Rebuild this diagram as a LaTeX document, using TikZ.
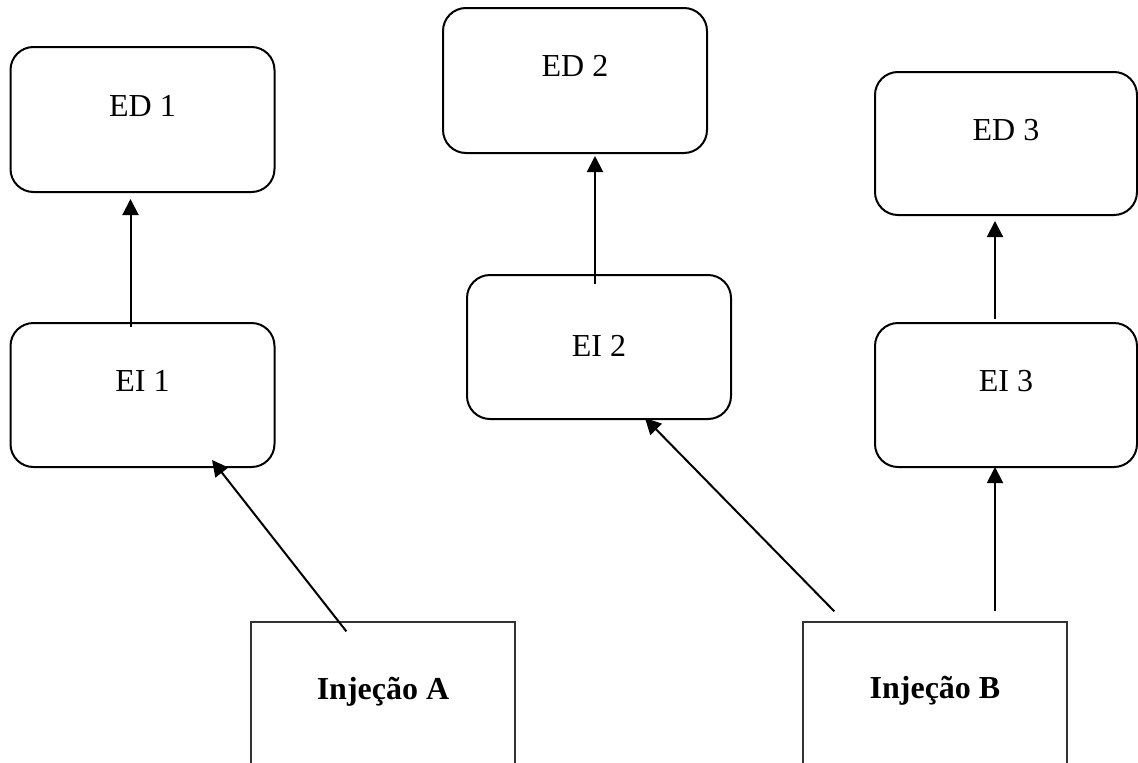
\documentclass[tikz,border=0pt]{standalone}
\usepackage{fontspec}
\setmainfont{Liberation Serif}
\usetikzlibrary{calc,arrows.meta}

\begin{document}
\begin{tikzpicture}[x=1pt,y=-1pt,
  rbox/.style={draw, line width=2pt, rounded corners=23pt, inner sep=0pt,
               minimum width=264pt, minimum height=144pt},
  injbox/.style={draw=black!80, line width=1.3pt, inner sep=0pt,
                 minimum width=264pt, minimum height=200pt},
  lbl/.style={anchor=base, inner sep=0pt, font=\fontsize{32}{38}\selectfont},
  blbl/.style={lbl, font=\fontsize{32}{38}\selectfont\bfseries},
  arr/.style={line width=2pt, -{Triangle[length=16pt,width=16pt]}}
]
\clip (0,0) rectangle (1138,763);
\fill[white] (0,0) rectangle (1138,763);

% effect boxes (top row)
\node[rbox, minimum height=145pt] (ed1) at (142.5,119.5) {};
\node[rbox, minimum height=145pt] (ed2) at (575,80.5) {};
\node[rbox, minimum width=262pt, minimum height=143pt] (ed3) at (1006,143.5) {};

% intermediate boxes (middle row)
\node[rbox] (ei1) at (142.5,395) {};
\node[rbox] (ei2) at (599,347) {};
\node[rbox, minimum width=262pt] (ei3) at (1006,395) {};

% injection boxes (bottom row, cut by the page edge)
\node[injbox] (injA) at (383,722) {};
\node[injbox] (injB) at (935,722) {};

% labels
\node[lbl] (ed1t) at ($(ed1.north)+(0,70)$) {ED 1};
\node[lbl] (ed2t) at ($(ed2.north)+(0,69)$) {ED 2};
\node[lbl] (ed3t) at ($(ed3.north)+(0,69)$) {ED 3};
\node[lbl] (ei1t) at ($(ei1.north)+(0,69)$) {EI 1};
\node[lbl] (ei2t) at ($(ei2.north)+(0,82)$) {EI 2};
\node[lbl] (ei3t) at ($(ei3.north)+(0,69)$) {EI 3};
\node[blbl] (injAt) at ($(injA.north)+(0,78)$) {Injeção A};
\node[blbl] (injBt) at ($(injB.north)+(0,77)$) {Injeção B};

% connector end points
\coordinate (a1s) at ($(ei1.north)+(-12,5)$);
\coordinate (a1e) at ($(ed1.south)+(-12,6)$);
\coordinate (a2s) at ($(injA.north west)+(96,10)$);
\coordinate (a2e) at ($(ei1.south)+(69.5,-8)$);
\coordinate (a3s) at ($(ei2.north)+(-4,10)$);
\coordinate (a3e) at ($(ed2.south)+(20,2)$);
\coordinate (a4s) at ($(injB.north west)+(32,-10)$);
\coordinate (a4e) at ($(ei2.south)+(46,-2)$);
\coordinate (a5s) at ($(ei3.north)+(-11,-3)$);
\coordinate (a5e) at ($(ed3.south)+(-11,5)$);
\coordinate (a6e) at ($(ei3.south)+(-11,-1)$);
\coordinate (a6s) at ($(a6e |- injB.north)+(0,-10)$);

% connectors
\draw[arr] (a1s) -- (a1e);
\draw[arr] (a2s) -- (a2e);
\draw[arr] (a3s) -- (a3e);
\draw[arr] (a4s) -- (a4e);
\draw[arr] (a5s) -- (a5e);
\draw[arr] (a6s) -- (a6e);
\end{tikzpicture}
\end{document}
